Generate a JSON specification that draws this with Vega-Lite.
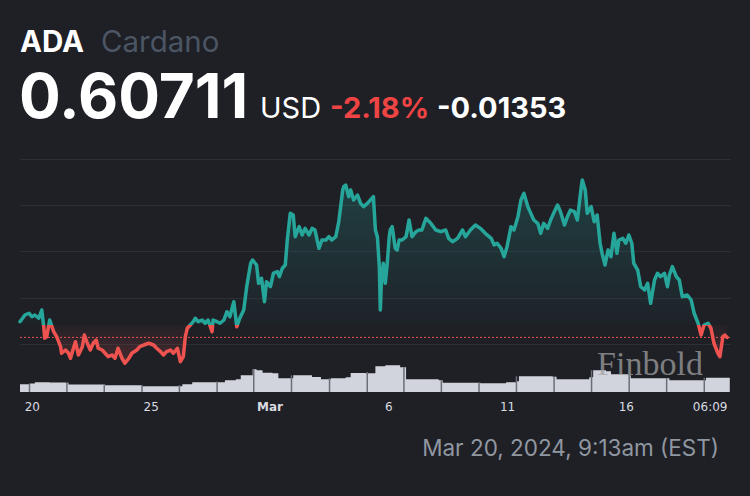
{
  "$schema": "https://vega.github.io/schema/vega-lite/v6.json",
  "width": 710,
  "height": 256,
  "autosize": {"type": "none"},
  "padding": {"left": 20, "top": 136, "right": 20, "bottom": 104},
  "background": "#1e2026",
  "config": {"view": {"stroke": null}, "axis": {"domain": false, "ticks": false}},
  "datasets": {
    "price": [
      {"t": "2024-02-19T12:00", "price": 0.6241},
      {"t": "2024-02-19T17:00", "price": 0.6313},
      {"t": "2024-02-19T21:00", "price": 0.6332},
      {"t": "2024-02-20T00:00", "price": 0.6295},
      {"t": "2024-02-20T03:00", "price": 0.6313},
      {"t": "2024-02-20T07:00", "price": 0.6278},
      {"t": "2024-02-20T10:00", "price": 0.6367},
      {"t": "2024-02-20T12:00", "price": 0.6187},
      {"t": "2024-02-20T13:00", "price": 0.6062},
      {"t": "2024-02-20T15:00", "price": 0.6079},
      {"t": "2024-02-20T18:00", "price": 0.6259},
      {"t": "2024-02-20T22:00", "price": 0.6133},
      {"t": "2024-02-21T01:00", "price": 0.6079},
      {"t": "2024-02-21T05:00", "price": 0.5971},
      {"t": "2024-02-21T06:00", "price": 0.5900},
      {"t": "2024-02-21T10:00", "price": 0.5935},
      {"t": "2024-02-21T13:00", "price": 0.5900},
      {"t": "2024-02-21T15:00", "price": 0.5846},
      {"t": "2024-02-21T18:00", "price": 0.5954},
      {"t": "2024-02-21T20:00", "price": 0.6025},
      {"t": "2024-02-21T23:00", "price": 0.5881},
      {"t": "2024-02-22T03:00", "price": 0.5971},
      {"t": "2024-02-22T05:00", "price": 0.6097},
      {"t": "2024-02-22T08:00", "price": 0.6008},
      {"t": "2024-02-22T11:00", "price": 0.5935},
      {"t": "2024-02-22T14:00", "price": 0.6008},
      {"t": "2024-02-22T17:00", "price": 0.6043},
      {"t": "2024-02-22T19:00", "price": 0.5954},
      {"t": "2024-02-22T23:00", "price": 0.5935},
      {"t": "2024-02-23T02:00", "price": 0.5900},
      {"t": "2024-02-23T05:00", "price": 0.5863},
      {"t": "2024-02-23T09:00", "price": 0.5881},
      {"t": "2024-02-23T12:00", "price": 0.5846},
      {"t": "2024-02-23T15:00", "price": 0.5954},
      {"t": "2024-02-23T19:00", "price": 0.5846},
      {"t": "2024-02-23T22:00", "price": 0.5792},
      {"t": "2024-02-24T02:00", "price": 0.5846},
      {"t": "2024-02-24T05:00", "price": 0.5900},
      {"t": "2024-02-24T10:00", "price": 0.5935},
      {"t": "2024-02-24T13:00", "price": 0.5971},
      {"t": "2024-02-24T17:00", "price": 0.5989},
      {"t": "2024-02-24T22:00", "price": 0.6008},
      {"t": "2024-02-25T03:00", "price": 0.5989},
      {"t": "2024-02-25T06:00", "price": 0.5954},
      {"t": "2024-02-25T10:00", "price": 0.5917},
      {"t": "2024-02-25T13:00", "price": 0.5881},
      {"t": "2024-02-25T16:00", "price": 0.5917},
      {"t": "2024-02-25T20:00", "price": 0.5935},
      {"t": "2024-02-25T23:00", "price": 0.5900},
      {"t": "2024-02-26T03:00", "price": 0.5954},
      {"t": "2024-02-26T06:00", "price": 0.5809},
      {"t": "2024-02-26T09:00", "price": 0.5863},
      {"t": "2024-02-26T11:00", "price": 0.6079},
      {"t": "2024-02-26T13:00", "price": 0.6170},
      {"t": "2024-02-26T16:00", "price": 0.6205},
      {"t": "2024-02-26T19:00", "price": 0.6241},
      {"t": "2024-02-26T21:00", "price": 0.6278},
      {"t": "2024-02-27T00:00", "price": 0.6241},
      {"t": "2024-02-27T04:00", "price": 0.6259},
      {"t": "2024-02-27T07:00", "price": 0.6224},
      {"t": "2024-02-27T10:00", "price": 0.6259},
      {"t": "2024-02-27T14:00", "price": 0.6133},
      {"t": "2024-02-27T15:00", "price": 0.6259},
      {"t": "2024-02-27T19:00", "price": 0.6241},
      {"t": "2024-02-27T22:00", "price": 0.6224},
      {"t": "2024-02-28T02:00", "price": 0.6259},
      {"t": "2024-02-28T05:00", "price": 0.6349},
      {"t": "2024-02-28T08:00", "price": 0.6295},
      {"t": "2024-02-28T12:00", "price": 0.6457},
      {"t": "2024-02-28T15:00", "price": 0.6187},
      {"t": "2024-02-28T18:00", "price": 0.6278},
      {"t": "2024-02-28T22:00", "price": 0.6367},
      {"t": "2024-02-29T01:00", "price": 0.6619},
      {"t": "2024-02-29T05:00", "price": 0.6872},
      {"t": "2024-02-29T07:00", "price": 0.6907},
      {"t": "2024-02-29T11:00", "price": 0.6853},
      {"t": "2024-02-29T13:00", "price": 0.6656},
      {"t": "2024-02-29T16:00", "price": 0.6710},
      {"t": "2024-02-29T19:00", "price": 0.6457},
      {"t": "2024-02-29T21:00", "price": 0.6673},
      {"t": "2024-03-01T01:00", "price": 0.6619},
      {"t": "2024-03-01T04:00", "price": 0.6764},
      {"t": "2024-03-01T08:00", "price": 0.6781},
      {"t": "2024-03-01T10:00", "price": 0.6727},
      {"t": "2024-03-01T13:00", "price": 0.6818},
      {"t": "2024-03-01T16:00", "price": 0.6853},
      {"t": "2024-03-01T18:00", "price": 0.7123},
      {"t": "2024-03-01T21:00", "price": 0.7411},
      {"t": "2024-03-02T00:00", "price": 0.7393},
      {"t": "2024-03-02T02:00", "price": 0.7159},
      {"t": "2024-03-02T06:00", "price": 0.7267},
      {"t": "2024-03-02T09:00", "price": 0.7177},
      {"t": "2024-03-02T12:00", "price": 0.7249},
      {"t": "2024-03-02T16:00", "price": 0.7177},
      {"t": "2024-03-02T19:00", "price": 0.7249},
      {"t": "2024-03-02T22:00", "price": 0.7231},
      {"t": "2024-03-03T02:00", "price": 0.7033},
      {"t": "2024-03-03T05:00", "price": 0.7123},
      {"t": "2024-03-03T09:00", "price": 0.7123},
      {"t": "2024-03-03T12:00", "price": 0.7159},
      {"t": "2024-03-03T15:00", "price": 0.7123},
      {"t": "2024-03-03T19:00", "price": 0.7159},
      {"t": "2024-03-03T22:00", "price": 0.7318},
      {"t": "2024-03-04T02:00", "price": 0.7663},
      {"t": "2024-03-04T03:00", "price": 0.7699},
      {"t": "2024-03-04T05:00", "price": 0.7717},
      {"t": "2024-03-04T08:00", "price": 0.7591},
      {"t": "2024-03-04T10:00", "price": 0.7663},
      {"t": "2024-03-04T13:00", "price": 0.7555},
      {"t": "2024-03-04T17:00", "price": 0.7609},
      {"t": "2024-03-04T20:00", "price": 0.7519},
      {"t": "2024-03-04T23:00", "price": 0.7483},
      {"t": "2024-03-05T03:00", "price": 0.7519},
      {"t": "2024-03-05T06:00", "price": 0.7555},
      {"t": "2024-03-05T09:00", "price": 0.7591},
      {"t": "2024-03-05T11:00", "price": 0.7231},
      {"t": "2024-03-05T13:00", "price": 0.7159},
      {"t": "2024-03-05T15:00", "price": 0.6835},
      {"t": "2024-03-05T16:00", "price": 0.6367},
      {"t": "2024-03-05T17:00", "price": 0.6656},
      {"t": "2024-03-05T19:00", "price": 0.6872},
      {"t": "2024-03-05T21:00", "price": 0.6656},
      {"t": "2024-03-05T23:00", "price": 0.6872},
      {"t": "2024-03-06T01:00", "price": 0.7159},
      {"t": "2024-03-06T02:00", "price": 0.7231},
      {"t": "2024-03-06T04:00", "price": 0.7267},
      {"t": "2024-03-06T07:00", "price": 0.7033},
      {"t": "2024-03-06T09:00", "price": 0.7015},
      {"t": "2024-03-06T11:00", "price": 0.7123},
      {"t": "2024-03-06T14:00", "price": 0.7123},
      {"t": "2024-03-06T18:00", "price": 0.7159},
      {"t": "2024-03-06T21:00", "price": 0.7339},
      {"t": "2024-03-07T00:00", "price": 0.7159},
      {"t": "2024-03-07T04:00", "price": 0.7213},
      {"t": "2024-03-07T07:00", "price": 0.7231},
      {"t": "2024-03-07T10:00", "price": 0.7231},
      {"t": "2024-03-07T14:00", "price": 0.7357},
      {"t": "2024-03-07T19:00", "price": 0.7303},
      {"t": "2024-03-08T00:00", "price": 0.7231},
      {"t": "2024-03-08T05:00", "price": 0.7213},
      {"t": "2024-03-08T10:00", "price": 0.7231},
      {"t": "2024-03-08T13:00", "price": 0.7141},
      {"t": "2024-03-08T17:00", "price": 0.7105},
      {"t": "2024-03-08T22:00", "price": 0.7141},
      {"t": "2024-03-09T03:00", "price": 0.7231},
      {"t": "2024-03-09T06:00", "price": 0.7159},
      {"t": "2024-03-09T11:00", "price": 0.7231},
      {"t": "2024-03-09T16:00", "price": 0.7285},
      {"t": "2024-03-09T21:00", "price": 0.7249},
      {"t": "2024-03-10T02:00", "price": 0.7195},
      {"t": "2024-03-10T08:00", "price": 0.7141},
      {"t": "2024-03-10T11:00", "price": 0.7069},
      {"t": "2024-03-10T14:00", "price": 0.7088},
      {"t": "2024-03-10T18:00", "price": 0.7033},
      {"t": "2024-03-10T21:00", "price": 0.6943},
      {"t": "2024-03-11T00:00", "price": 0.7051},
      {"t": "2024-03-11T04:00", "price": 0.7267},
      {"t": "2024-03-11T07:00", "price": 0.7231},
      {"t": "2024-03-11T11:00", "price": 0.7375},
      {"t": "2024-03-11T14:00", "price": 0.7555},
      {"t": "2024-03-11T17:00", "price": 0.7627},
      {"t": "2024-03-11T21:00", "price": 0.7483},
      {"t": "2024-03-12T00:00", "price": 0.7411},
      {"t": "2024-03-12T03:00", "price": 0.7339},
      {"t": "2024-03-12T07:00", "price": 0.7303},
      {"t": "2024-03-12T10:00", "price": 0.7195},
      {"t": "2024-03-12T13:00", "price": 0.7303},
      {"t": "2024-03-12T17:00", "price": 0.7249},
      {"t": "2024-03-12T20:00", "price": 0.7339},
      {"t": "2024-03-12T23:00", "price": 0.7411},
      {"t": "2024-03-13T03:00", "price": 0.7501},
      {"t": "2024-03-13T06:00", "price": 0.7429},
      {"t": "2024-03-13T10:00", "price": 0.7285},
      {"t": "2024-03-13T13:00", "price": 0.7375},
      {"t": "2024-03-13T16:00", "price": 0.7447},
      {"t": "2024-03-13T20:00", "price": 0.7429},
      {"t": "2024-03-13T23:00", "price": 0.7339},
      {"t": "2024-03-14T03:00", "price": 0.7699},
      {"t": "2024-03-14T04:00", "price": 0.7771},
      {"t": "2024-03-14T07:00", "price": 0.7663},
      {"t": "2024-03-14T09:00", "price": 0.7411},
      {"t": "2024-03-14T13:00", "price": 0.7483},
      {"t": "2024-03-14T16:00", "price": 0.7321},
      {"t": "2024-03-14T19:00", "price": 0.7393},
      {"t": "2024-03-14T22:00", "price": 0.7088},
      {"t": "2024-03-15T00:00", "price": 0.6979},
      {"t": "2024-03-15T03:00", "price": 0.6853},
      {"t": "2024-03-15T06:00", "price": 0.7015},
      {"t": "2024-03-15T09:00", "price": 0.6943},
      {"t": "2024-03-15T12:00", "price": 0.7195},
      {"t": "2024-03-15T15:00", "price": 0.6979},
      {"t": "2024-03-15T17:00", "price": 0.7123},
      {"t": "2024-03-15T21:00", "price": 0.7141},
      {"t": "2024-03-16T00:00", "price": 0.7088},
      {"t": "2024-03-16T03:00", "price": 0.7177},
      {"t": "2024-03-16T06:00", "price": 0.7088},
      {"t": "2024-03-16T08:00", "price": 0.6872},
      {"t": "2024-03-16T12:00", "price": 0.6799},
      {"t": "2024-03-16T15:00", "price": 0.6619},
      {"t": "2024-03-16T19:00", "price": 0.6583},
      {"t": "2024-03-16T22:00", "price": 0.6656},
      {"t": "2024-03-17T01:00", "price": 0.6439},
      {"t": "2024-03-17T05:00", "price": 0.6691},
      {"t": "2024-03-17T08:00", "price": 0.6764},
      {"t": "2024-03-17T11:00", "price": 0.6727},
      {"t": "2024-03-17T15:00", "price": 0.6764},
      {"t": "2024-03-17T18:00", "price": 0.6619},
      {"t": "2024-03-17T20:00", "price": 0.6745},
      {"t": "2024-03-17T23:00", "price": 0.6835},
      {"t": "2024-03-18T03:00", "price": 0.6727},
      {"t": "2024-03-18T06:00", "price": 0.6691},
      {"t": "2024-03-18T09:00", "price": 0.6511},
      {"t": "2024-03-18T14:00", "price": 0.6529},
      {"t": "2024-03-18T18:00", "price": 0.6475},
      {"t": "2024-03-18T21:00", "price": 0.6332},
      {"t": "2024-03-19T01:00", "price": 0.6224},
      {"t": "2024-03-19T04:00", "price": 0.6097},
      {"t": "2024-03-19T07:00", "price": 0.6205},
      {"t": "2024-03-19T11:00", "price": 0.6224},
      {"t": "2024-03-19T14:00", "price": 0.6170},
      {"t": "2024-03-19T17:00", "price": 0.6008},
      {"t": "2024-03-19T21:00", "price": 0.5900},
      {"t": "2024-03-19T23:00", "price": 0.5863},
      {"t": "2024-03-20T02:00", "price": 0.6079},
      {"t": "2024-03-20T04:00", "price": 0.6097},
      {"t": "2024-03-20T06:09", "price": 0.60711}
    ],
    "volume": [
      {"t": "2024-02-19T12:00", "volume": 77},
      {"t": "2024-02-19T20:00", "volume": 77},
      {"t": "2024-02-19T22:00", "volume": 84},
      {"t": "2024-02-20T03:00", "volume": 97},
      {"t": "2024-02-20T18:00", "volume": 94},
      {"t": "2024-02-21T10:00", "volume": 92},
      {"t": "2024-02-21T13:00", "volume": 74},
      {"t": "2024-02-23T00:00", "volume": 74},
      {"t": "2024-02-23T02:00", "volume": 67},
      {"t": "2024-02-24T13:00", "volume": 67},
      {"t": "2024-02-24T15:00", "volume": 57},
      {"t": "2024-02-26T04:00", "volume": 57},
      {"t": "2024-02-26T08:00", "volume": 77},
      {"t": "2024-02-26T18:00", "volume": 97},
      {"t": "2024-02-27T17:00", "volume": 97},
      {"t": "2024-02-28T03:00", "volume": 117},
      {"t": "2024-02-28T14:00", "volume": 127},
      {"t": "2024-02-28T19:00", "volume": 167},
      {"t": "2024-02-29T03:00", "volume": 167},
      {"t": "2024-02-29T07:00", "volume": 227},
      {"t": "2024-02-29T11:00", "volume": 217},
      {"t": "2024-02-29T17:00", "volume": 192},
      {"t": "2024-03-01T03:00", "volume": 187},
      {"t": "2024-03-01T09:00", "volume": 137},
      {"t": "2024-03-01T21:00", "volume": 137},
      {"t": "2024-03-02T00:00", "volume": 167},
      {"t": "2024-03-02T12:00", "volume": 167},
      {"t": "2024-03-02T19:00", "volume": 150},
      {"t": "2024-03-03T04:00", "volume": 127},
      {"t": "2024-03-03T14:00", "volume": 137},
      {"t": "2024-03-04T05:00", "volume": 147},
      {"t": "2024-03-04T10:00", "volume": 190},
      {"t": "2024-03-05T01:00", "volume": 187},
      {"t": "2024-03-05T11:00", "volume": 257},
      {"t": "2024-03-05T21:00", "volume": 267},
      {"t": "2024-03-06T12:00", "volume": 247},
      {"t": "2024-03-06T18:00", "volume": 127},
      {"t": "2024-03-08T03:00", "volume": 117},
      {"t": "2024-03-08T07:00", "volume": 92},
      {"t": "2024-03-09T16:00", "volume": 92},
      {"t": "2024-03-09T21:00", "volume": 87},
      {"t": "2024-03-10T23:00", "volume": 97},
      {"t": "2024-03-11T09:00", "volume": 107},
      {"t": "2024-03-11T12:00", "volume": 157},
      {"t": "2024-03-12T22:00", "volume": 152},
      {"t": "2024-03-13T02:00", "volume": 127},
      {"t": "2024-03-14T03:00", "volume": 127},
      {"t": "2024-03-14T11:00", "volume": 147},
      {"t": "2024-03-14T15:00", "volume": 217},
      {"t": "2024-03-15T04:00", "volume": 207},
      {"t": "2024-03-15T09:00", "volume": 177},
      {"t": "2024-03-16T02:00", "volume": 167},
      {"t": "2024-03-16T05:00", "volume": 137},
      {"t": "2024-03-17T16:00", "volume": 137},
      {"t": "2024-03-17T20:00", "volume": 117},
      {"t": "2024-03-19T06:00", "volume": 117},
      {"t": "2024-03-19T09:00", "volume": 142},
      {"t": "2024-03-20T09:00", "volume": 137}
    ],
    "separators": [
      {"t": "2024-02-19T21:36", "volume": 84},
      {"t": "2024-02-21T11:24", "volume": 92},
      {"t": "2024-02-23T01:07", "volume": 74},
      {"t": "2024-02-24T15:15", "volume": 67},
      {"t": "2024-02-26T05:00", "volume": 70},
      {"t": "2024-02-27T19:06", "volume": 105},
      {"t": "2024-02-29T08:07", "volume": 227},
      {"t": "2024-03-01T22:15", "volume": 167},
      {"t": "2024-03-03T12:41", "volume": 137},
      {"t": "2024-03-05T02:48", "volume": 200},
      {"t": "2024-03-06T15:50", "volume": 247},
      {"t": "2024-03-08T05:39", "volume": 117},
      {"t": "2024-03-09T19:41", "volume": 92},
      {"t": "2024-03-11T09:30", "volume": 157},
      {"t": "2024-03-12T23:32", "volume": 152},
      {"t": "2024-03-14T13:22", "volume": 217},
      {"t": "2024-03-16T03:23", "volume": 167},
      {"t": "2024-03-17T17:13", "volume": 137},
      {"t": "2024-03-19T07:14", "volume": 142}
    ]
  },
  "resolve": {"scale": {"y": "independent"}},
  "layer": [
    {
      "data": {"name": "volume"},
      "mark": {"type": "area", "color": "#d1d4dc", "interpolate": "step-after"},
      "encoding": {
        "x": {"field": "t", "type": "temporal",
          "scale": {"domain": [{"year": 2024, "month": 2, "date": 19, "hours": 12}, {"year": 2024, "month": 3, "date": 20, "hours": 9, "minutes": 13}]},
          "axis": {
            "values": [{"year": 2024, "month": 2, "date": 20}, {"year": 2024, "month": 2, "date": 25}, {"year": 2024, "month": 3, "date": 1}, {"year": 2024, "month": 3, "date": 6}, {"year": 2024, "month": 3, "date": 11}, {"year": 2024, "month": 3, "date": 16}, {"year": 2024, "month": 3, "date": 20, "hours": 6, "minutes": 9}],
            "labelExpr": "timeFormat(datum.value, '%d') == '01' ? 'Mar' : (timeFormat(datum.value, '%H:%M') == '06:09' ? '06:09' : timeFormat(datum.value, '%-d'))",
            "grid": false, "title": null, "labelFont": "DejaVu Sans", "labelFontSize": 12,
            "labelColor": "#d9dbe0", "labelPadding": 9, "labelFlush": 8, "labelOverlap": false,
            "labelFontWeight": {"condition": {"test": "timeFormat(datum.value, '%d') == '01'", "value": "bold"}, "value": "normal"}
          }
        },
        "y": {"field": "volume", "type": "quantitative", "scale": {"domain": [0, 2560]}, "axis": null}
      }
    },
    {
      "data": {"name": "separators"},
      "mark": {"type": "rule", "color": "#6b6e76", "strokeWidth": 1.5},
      "encoding": {
        "x": {"field": "t", "type": "temporal", "scale": {"domain": [{"year": 2024, "month": 2, "date": 19, "hours": 12}, {"year": 2024, "month": 3, "date": 20, "hours": 9, "minutes": 13}]}},
        "y": {"field": "volume", "type": "quantitative", "scale": {"domain": [0, 2560]}, "axis": null},
        "y2": {"datum": 0}
      }
    },
    {
      "data": {"name": "price"},
      "mark": {"type": "area", "fill": {"gradient": "linear", "x1": 0, "y1": 0, "x2": 0, "y2": 1, "stops": [
        {"offset": 0, "color": "rgba(38,166,154,0.24)"},
        {"offset": 0.7906, "color": "rgba(38,166,154,0.02)"},
        {"offset": 0.7906, "color": "rgba(239,83,80,0.03)"},
        {"offset": 1, "color": "rgba(239,83,80,0.2)"}]}},
      "encoding": {
        "x": {"field": "t", "type": "temporal", "scale": {"domain": [{"year": 2024, "month": 2, "date": 19, "hours": 12}, {"year": 2024, "month": 3, "date": 20, "hours": 9, "minutes": 13}]}},
        "y": {"field": "price", "type": "quantitative", "scale": {"domain": [0.54816, 0.82462], "nice": false, "zero": false},
          "axis": {"values": [0.6, 0.65, 0.7, 0.75, 0.8], "labels": false, "grid": true, "gridColor": "#2b2f36", "gridWidth": 1, "title": null}},
        "y2": {"datum": 0.62064}
      }
    },
    {
      "data": {"name": "price"},
      "mark": {"type": "line", "strokeWidth": 3.5, "strokeJoin": "round", "strokeCap": "round",
        "stroke": {"gradient": "linear", "x1": 0, "y1": 0, "x2": 0, "y2": 1, "stops": [
          {"offset": 0, "color": "#26a69a"},
          {"offset": 0.7906, "color": "#26a69a"},
          {"offset": 0.7906, "color": "#ef5350"},
          {"offset": 1, "color": "#ef5350"}]}},
      "encoding": {
        "x": {"field": "t", "type": "temporal", "scale": {"domain": [{"year": 2024, "month": 2, "date": 19, "hours": 12}, {"year": 2024, "month": 3, "date": 20, "hours": 9, "minutes": 13}]}},
        "y": {"field": "price", "type": "quantitative", "scale": {"domain": [0.54816, 0.82462], "nice": false, "zero": false}, "axis": null}
      }
    },
    {
      "data": {"values": [{"current": 0.60711}]},
      "mark": {"type": "rule", "color": "#ef5350", "strokeWidth": 1, "strokeDash": [2, 2]},
      "encoding": {
        "y": {"field": "current", "type": "quantitative", "scale": {"domain": [0.54816, 0.82462], "nice": false, "zero": false}, "axis": null}
      }
    },
    {
      "data": {"values": [{"label": "Finbold"}]},
      "mark": {"type": "text", "x": 630, "y": 239, "align": "center", "baseline": "alphabetic", "font": "Liberation Serif", "fontSize": 34, "color": "#a3a3a3", "opacity": 0.72},
      "encoding": {"text": {"field": "label"}}
    },
    {
      "data": {"values": [{"label": "ADA"}]},
      "mark": {"type": "text", "x": 0, "y": -84, "align": "left", "baseline": "alphabetic", "font": "Inter", "fontSize": 29.5, "fontWeight": "bold", "color": "#ffffff"},
      "encoding": {"text": {"field": "label"}}
    },
    {
      "data": {"values": [{"label": "Cardano"}]},
      "mark": {"type": "text", "x": 81, "y": -84, "align": "left", "baseline": "alphabetic", "font": "Inter", "fontSize": 29.5, "fontWeight": "normal", "color": "#4b5563"},
      "encoding": {"text": {"field": "label"}}
    },
    {
      "data": {"values": [{"label": "0.60711"}]},
      "mark": {"type": "text", "x": -1, "y": -18, "align": "left", "baseline": "alphabetic", "font": "Inter", "fontSize": 62, "fontWeight": "bold", "color": "#ffffff"},
      "encoding": {"text": {"field": "label"}}
    },
    {
      "data": {"values": [{"label": "USD"}]},
      "mark": {"type": "text", "x": 240, "y": -18, "align": "left", "baseline": "alphabetic", "font": "Inter", "fontSize": 29, "fontWeight": "normal", "color": "#ffffff"},
      "encoding": {"text": {"field": "label"}}
    },
    {
      "data": {"values": [{"label": "-2.18%"}]},
      "mark": {"type": "text", "x": 310, "y": -18, "align": "left", "baseline": "alphabetic", "font": "Inter", "fontSize": 29, "fontWeight": "bold", "color": "#ef4444"},
      "encoding": {"text": {"field": "label"}}
    },
    {
      "data": {"values": [{"label": "-0.01353"}]},
      "mark": {"type": "text", "x": 417, "y": -18, "align": "left", "baseline": "alphabetic", "font": "Inter", "fontSize": 29, "fontWeight": "bold", "color": "#ffffff"},
      "encoding": {"text": {"field": "label"}}
    },
    {
      "data": {"values": [{"label": "Mar 20, 2024, 9:13am (EST)"}]},
      "mark": {"type": "text", "x": 699, "y": 320, "align": "right", "baseline": "alphabetic", "font": "Inter", "fontSize": 22.5, "fontWeight": "normal", "color": "#9097a1"},
      "encoding": {"text": {"field": "label"}}
    }
  ]
}
